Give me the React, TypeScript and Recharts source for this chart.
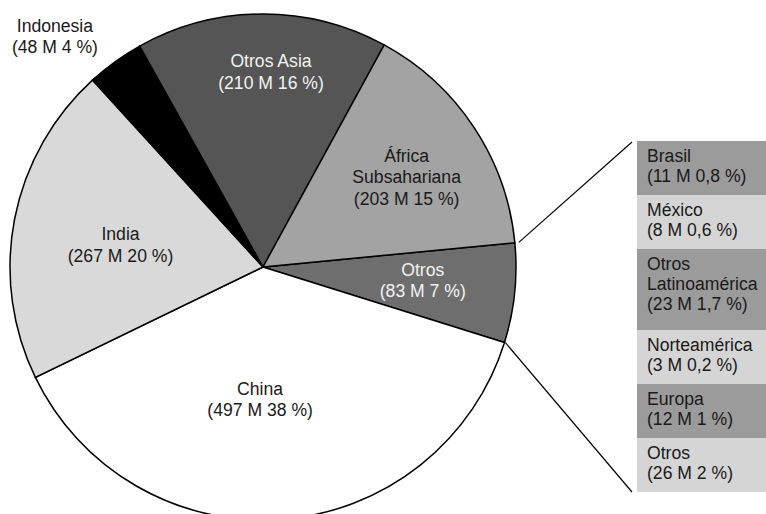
import { PieChart, Pie, Cell, BarChart, Bar, XAxis, YAxis } from "recharts";

const FONT = '"Liberation Sans", Arial, Helvetica, sans-serif';

// main regions, clockwise from the "Otros" wedge on the right
const REGIONS = ["Otros", "China", "India", "Indonesia", "Otros Asia", "África\nSubsahariana"];
const REGION_POP = [83, 497, 267, 48, 210, 203];
const REGION_PCT = ["7", "38", "20", "4", "16", "15"];

// breakdown of "Otros"
const SUB_REGIONS = ["Brasil", "México", "Otros\nLatinoamérica", "Norteamérica", "Europa", "Otros"];
const SUB_POP = [11, 8, 23, 3, 12, 26];
const SUB_PCT = ["0,8", "0,6", "1,7", "0,2", "1", "2"];

// styling
const REGION_COLORS = ["#6e6e6e", "#ffffff", "#d9d9d9", "#000000", "#555555", "#a3a3a3"];
const REGION_TEXT = ["#f2f2f2", "#1a1a1a", "#1a1a1a", "#1a1a1a", "#f2f2f2", "#1a1a1a"];
// label anchor (angle in degrees, distance from centre in px) of first baseline
const LABEL_POLAR: [number, number][] = [
  [-3.1, 160],
  [-91.3, 128],
  [169.3, 145],
  [131.5, 314],
  [87.7, 200],
  [36.2, 178],
];
const SUB_COLORS = ["#9b9b9b", "#d5d5d5"];

const CX = 263;
const CY = 267;
const R = 253;
const START = 5.5;
const BOX_LEFT = 637;
const BOX_TOP = 141;
const BOX_W = 129;
const BOX_H = 351;
const FS = 17.6;

const pieData = REGIONS.map((name, i) => ({
  name,
  value: REGION_POP[i],
  lines: [...name.split("\n"), `(${REGION_POP[i]} M ${REGION_PCT[i]} %)`],
}));

const subLines = SUB_REGIONS.map((n, i) => [...n.split("\n"), `(${SUB_POP[i]} M ${SUB_PCT[i]} %)`]);
const totalLines = subLines.reduce((s, l) => s + l.length, 0);
const boxRow: Record<string, string | number> = { name: "Otros" };
subLines.forEach((l, i) => {
  boxRow[`s${i}`] = l.length;
});

const polar = (r: number, deg: number) => {
  const a = (deg * Math.PI) / 180;
  return { x: CX + r * Math.cos(a), y: CY - r * Math.sin(a) };
};

const renderPieLabel = (props: any) => {
  const { index, startAngle, endAngle, outerRadius } = props;
  const d = pieData[index];
  const [ang, dist] = LABEL_POLAR[index];
  const p = polar(dist, ang);
  const text = (
    <text x={p.x} y={p.y} textAnchor="middle" fontSize={FS} fontFamily={FONT} fill={REGION_TEXT[index]}>
      {d.lines.map((l, k) => (
        <tspan key={k} x={p.x} dy={k === 0 ? 0 : 21.5}>
          {l}
        </tspan>
      ))}
    </text>
  );
  if (index !== 0) return <g key={index}>{text}</g>;
  const a = polar(outerRadius + 4, startAngle);
  const b = polar(outerRadius + 1, endAngle);
  return (
    <g key={index}>
      {text}
      <line x1={a.x} y1={a.y} x2={BOX_LEFT - 5} y2={BOX_TOP + 1} stroke="#000" strokeWidth={1.2} />
      <line x1={b.x} y1={b.y} x2={BOX_LEFT - 5} y2={BOX_TOP + BOX_H} stroke="#000" strokeWidth={1.2} />
    </g>
  );
};

const boxShape = (i: number) => (props: any) => {
  const { x, y, width, height } = props;
  return (
    <g>
      <rect x={x} y={y} width={width} height={height} fill={SUB_COLORS[i % 2]} />
      <text x={x + 10} y={y + 21} fontSize={FS} fontFamily={FONT} fill="#1a1a1a">
        {subLines[i].map((l, k) => (
          <tspan key={k} x={x + 10} dy={k === 0 ? 0 : 20}>
            {l}
          </tspan>
        ))}
      </text>
    </g>
  );
};

const App = () => {
  // stacked bars grow upwards, so the last region goes first
  const order = SUB_REGIONS.map((_, i) => i).reverse();
  return (
    <div style={{ position: "absolute", left: 0, top: 0, width: 766, height: 514, background: "#fff", fontFamily: FONT }}>
      <div style={{ position: "absolute", left: 0, top: 0 }}>
        <PieChart width={766} height={514} margin={{ top: 0, right: 0, bottom: 0, left: 0 }}>
          <Pie
            data={pieData}
            dataKey="value"
            nameKey="name"
            cx={CX}
            cy={CY}
            outerRadius={R}
            startAngle={START}
            endAngle={START - 360}
            stroke="#000"
            strokeWidth={1.5}
            labelLine={false}
            label={renderPieLabel}
            isAnimationActive={false}
          >
            {pieData.map((d, i) => (
              <Cell key={d.name} fill={REGION_COLORS[i]} stroke="#000" strokeWidth={1.5} />
            ))}
          </Pie>
        </PieChart>
      </div>
      <div style={{ position: "absolute", left: BOX_LEFT, top: BOX_TOP }}>
        <BarChart
          width={BOX_W}
          height={BOX_H}
          data={[boxRow]}
          margin={{ top: 0, right: 0, bottom: 0, left: 0 }}
          barCategoryGap={0}
          barGap={0}
        >
          <XAxis dataKey="name" hide />
          <YAxis hide domain={[0, totalLines]} />
          {order.map((i) => (
            <Bar key={i} dataKey={`s${i}`} stackId="box" fill={SUB_COLORS[i % 2]} shape={boxShape(i)} isAnimationActive={false} />
          ))}
        </BarChart>
      </div>
    </div>
  );
};

export default App;
